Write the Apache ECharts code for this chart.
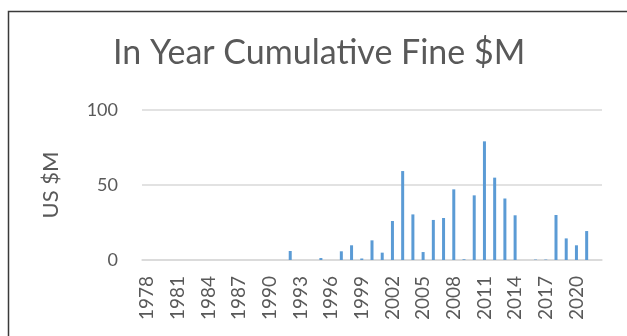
<!DOCTYPE html>
<html>
<head>
<meta charset="utf-8">
<script src="https://cdn.jsdelivr.net/npm/echarts@6/dist/echarts.min.js"></script>
<style>
  html, body { margin: 0; padding: 0; background: #fff; }
  #chart { width: 627px; height: 336px; }
</style>
</head>
<body>
<div id="chart"></div>
<script>
// years 1978..2022, null where no bar was drawn
const years = [];
for (let y = 1978; y <= 2022; y++) years.push(String(y));

const fines = [
  null, null, null, null, null, null, null, null, null, null, // 1978-1987
  null, null, null, null, 6, null, null, 1.3, null, 5.8,      // 1988-1997
  9.8, 1, 13.1, 4.9, 26, 59.3, 30.4, 5.3, 26.7, 28,           // 1998-2007
  47.1, 0.5, 43.1, 79.1, 54.9, 41, 29.8, null, 0.3, 0.3,      // 2008-2017
  30, 14.4, 9.8, 19.3, null                                   // 2018-2022
];

const yTicks = [0, 50, 100];

const chart = echarts.init(document.getElementById('chart'));
const textColor = '#595959';

chart.setOption({
  backgroundColor: '#fff',
  animation: false,
  title: {
    text: 'In Year Cumulative Fine $M',
    left: 108,
    top: 31,
    textStyle: {
      color: textColor,
      fontSize: 34,
      fontWeight: 'normal',
      fontFamily: 'Lato',
    },
  },
  graphic: [
    {
      type: 'rect',
      shape: { x: 8.5, y: 11.5, width: 700, height: 400 },
      style: { fill: 'none', stroke: '#3a3a3a', lineWidth: 1.5 },
      silent: true,
    },
  ],
  grid: {
    left: 142,
    right: 25,
    top: 110,
    bottom: 76,
  },
  xAxis: {
    type: 'category',
    data: years,
    axisLine: { lineStyle: { color: '#d9d9d9', width: 1.5 } },
    axisTick: { show: false },
    axisLabel: {
      color: textColor,
      fontSize: 19,
      fontFamily: 'Lato',
      rotate: 90,
      interval: 2,
      margin: 16,
    },
  },
  yAxis: {
    type: 'value',
    min: yTicks[0],
    max: yTicks[yTicks.length - 1],
    interval: 50,
    name: 'US $M',
    nameLocation: 'middle',
    nameGap: 80,
    nameTextStyle: {
      color: textColor,
      fontSize: 22,
      fontFamily: 'Lato',
    },
    axisLine: { show: false },
    axisTick: { show: false },
    axisLabel: {
      color: textColor,
      fontSize: 18,
      fontFamily: 'Lato',
      margin: 24,
    },
    splitLine: { lineStyle: { color: '#d9d9d9', width: 1.5 } },
  },
  series: [
    {
      name: 'Fine',
      type: 'bar',
      data: fines,
      barWidth: 3,
      itemStyle: { color: '#5b9bd5' },
    },
  ],
});
</script>
</body>
</html>
